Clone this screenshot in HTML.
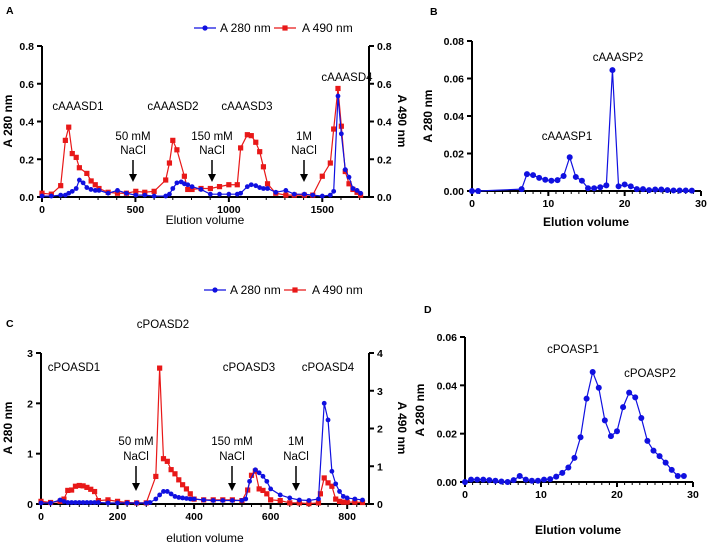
<!DOCTYPE html>
<html><head><meta charset="utf-8"><style>
body{margin:0;background:#fff}
svg{display:block;font-family:"Liberation Sans",Arial,sans-serif}
.t{font-size:11.5px;fill:#000}
.b{font-size:10.5px;font-weight:bold;fill:#000}
.bt{font-size:12px;font-weight:bold;fill:#000}
.tt{font-size:12px;fill:#000}
</style></head><body>
<svg id="s" width="708" height="546" viewBox="0 0 708 546"></svg>
<script>
// Panel A data
const aX=[0,50,100,125,143,162,183,200,220,240,262,285,305,354,404,452,502,550,600,662,682,700,722,745,762,780,803,851,901,950,1000,1045,1063,1099,1120,1144,1165,1185,1207,1251,1305,1350,1404,1449,1500,1543,1561,1584,1602,1623,1643,1664,1686,1705];
const aBlue=[0.005,0.005,0.01,0.01,0.02,0.03,0.045,0.09,0.075,0.05,0.04,0.035,0.035,0.02,0.035,0.02,0.01,0.01,0.005,0.005,0.015,0.045,0.075,0.08,0.07,0.065,0.055,0.04,0.015,0.015,0.015,0.015,0.02,0.055,0.065,0.06,0.05,0.045,0.045,0.025,0.035,0.015,0.015,0.01,0.005,0.01,0.03,0.535,0.335,0.145,0.105,0.045,0.035,0.02];
const aRedX=[0,50,100,125,143,162,183,200,240,263,285,305,354,404,452,502,550,600,662,682,700,722,762,780,803,851,901,950,1000,1045,1063,1099,1120,1144,1165,1185,1207,1251,1305,1350,1404,1449,1500,1543,1561,1584,1602,1623,1643,1664,1686,1705];
const aRed=[0.02,0.015,0.06,0.3,0.37,0.23,0.21,0.155,0.125,0.085,0.065,0.045,0.025,0.02,0.02,0.03,0.025,0.03,0.09,0.18,0.3,0.25,0.11,0.04,0.04,0.045,0.045,0.055,0.065,0.065,0.26,0.33,0.325,0.29,0.24,0.16,0.07,0.02,0.01,0.01,0.01,0.01,0.11,0.18,0.36,0.575,0.375,0.135,0.07,0.04,0.025,0.01];
// Panel B data
const bX=[0,0.8,6.5,7.2,8,8.8,9.6,10.4,11.2,12,12.8,13.6,14.4,15.2,16,16.8,17.6,18.4,19.2,20,20.8,21.6,22.4,23.2,24,24.8,25.6,26.4,27.2,28,28.8];
const bY=[0,0,0.001,0.009,0.0085,0.007,0.006,0.0055,0.0058,0.008,0.018,0.0075,0.0055,0.0015,0.0015,0.002,0.003,0.0645,0.0025,0.0035,0.0025,0.001,0.001,0.0005,0.0008,0.0008,0.0005,0.0003,0.0003,0.0003,0.0002];
// Panel C data
const cX=[0,25,50,60,70,80,90,100,110,120,130,140,150,175,200,225,250,275,300,310,320,330,340,350,360,370,380,390,400,425,450,475,500,525,540,550,560,570,580,590,600,625,650,675,700,725,730,740,750,760,770,780,790,800,820,840];
const cRed=[0.07,0.04,0.07,0.13,0.36,0.37,0.47,0.49,0.48,0.44,0.39,0.33,0.09,0.11,0.07,0.04,0.03,0.03,0.73,3.6,1.2,1.13,0.91,0.8,0.64,0.51,0.4,0.27,0.13,0.11,0.11,0.11,0.11,0.09,0.37,0.76,0.87,0.4,0.36,0.27,0.11,0.09,0.03,0.03,0.01,0.03,0.27,0.69,0.56,0.47,0.13,0.07,0.05,0.05,0.05,0.04];
const cBX=[0,25,50,60,70,80,90,100,110,120,130,140,150,175,200,225,250,275,285,300,310,320,330,340,350,360,370,380,390,400,425,450,475,500,525,535,545,560,570,580,590,600,625,650,675,700,725,740,750,760,770,780,790,800,820,840];
const cBlue=[0.02,0.02,0.08,0.05,0.03,0.03,0.03,0.03,0.03,0.03,0.03,0.03,0.03,0.02,0.02,0.02,0.02,0.02,0.03,0.1,0.18,0.25,0.25,0.2,0.15,0.13,0.12,0.11,0.1,0.1,0.08,0.07,0.07,0.07,0.07,0.1,0.45,0.68,0.62,0.55,0.45,0.3,0.18,0.12,0.08,0.07,0.1,2.0,1.67,0.65,0.4,0.25,0.15,0.12,0.1,0.08];
// Panel D data
const dX=[0,0.8,1.6,2.4,3.2,4,4.8,5.6,6.4,7.2,8,8.8,9.6,10.4,11.2,12,12.8,13.6,14.4,15.2,16,16.8,17.6,18.4,19.2,20,20.8,21.6,22.4,23.2,24,24.8,25.6,26.4,27.2,28,28.8];
const dY=[0,0.001,0.001,0.001,0.0008,0.0005,0.0002,0,0.0008,0.0025,0.001,0.0005,0.0005,0.001,0.0012,0.0022,0.0038,0.006,0.01,0.0185,0.0345,0.0455,0.039,0.0255,0.019,0.021,0.031,0.037,0.035,0.0265,0.017,0.013,0.0107,0.008,0.005,0.0025,0.0025];
const aTicks=[0,500,1000,1500], aYT=["0.0","0.2","0.4","0.6","0.8"];
const bTicks=[0,10,20,30], bYT=["0.00","0.02","0.04","0.06","0.08"];
const cTicks=[0,200,400,600,800], cYT=["0","1","2","3"], cRT=["0","1","2","3","4"];
const dYT=["0.00","0.02","0.04","0.06"];

const S=document.getElementById('s');const NS='http://www.w3.org/2000/svg';
function el(tag,at,txt){const e=document.createElementNS(NS,tag);for(const k in at)e.setAttribute(k,at[k]);if(txt!==undefined)e.textContent=txt;S.appendChild(e);return e;}
function txt(x,y,s,cls,anchor,name,rot){const e=el('text',{x:x,y:y,class:cls,'text-anchor':anchor||'middle'},s);


if(rot)e.setAttribute('transform','rotate('+rot+' '+x+' '+y+')');return e;}
function axes(P){
 const X=v=>P.x0+(v-P.xmin)/(P.xmax-P.xmin)*(P.x1-P.x0);
 const Y=v=>P.y0-(v/P.ymax)*(P.y0-P.y1);
 const ax=el('path',{d:`M${P.x0} ${P.y1}V${P.y0}H${P.x1}`,stroke:'#000','stroke-width':2,fill:'none'});
 
 
 P.yt.forEach((s,i)=>{const v=P.ymax*i/(P.yt.length-1);el('line',{x1:P.x0-5,x2:P.x0,y1:Y(v),y2:Y(v),stroke:'#000','stroke-width':2});
  txt(P.x0-8,Y(v)+4,s,'b','end',P.n+'-y-tick');});
 if(P.rt){const ra=el('line',{x1:P.x1,x2:P.x1,y1:P.y1,y2:P.y0,stroke:'#000','stroke-width':2});
  
  
  P.rt.forEach((s,i)=>{const y=P.y0-(P.y0-P.y1)*i/(P.rt.length-1);el('line',{x1:P.x1,x2:P.x1+5,y1:y,y2:y,stroke:'#000','stroke-width':2});txt(P.x1+8,y+4,s,'b','start',P.n+'-right-tick');});}
 P.xt.forEach(v=>{el('line',{x1:X(v),x2:X(v),y1:P.y0,y2:P.y0+5,stroke:'#000','stroke-width':2});txt(X(v),P.y0+16,String(v),'b','middle',P.n+'-x-tick');});
 const st=P.minor;for(let v=P.xmin;v<=P.xmax+1e-9;v+=st){el('line',{x1:X(v),x2:X(v),y1:P.y0,y2:P.y0+3,stroke:'#000','stroke-width':1});}
 return [X,Y];}
function series(X,Y,xs,ys,col,mk,name){
 const ln=el('polyline',{points:xs.map((x,i)=>X(x)+','+Y(ys[i])).join(' '),fill:'none',stroke:col,'stroke-width':1.2});
 
 
 xs.forEach((x,i)=>{let m;
  if(mk==='sq')m=el('rect',{x:X(x)-2.6,y:Y(ys[i])-2.6,width:5.2,height:5.2,fill:col});
  else m=el('circle',{cx:X(x),cy:Y(ys[i]),r:mk||2.6,fill:col});
  
  });}
function arrow(x,y1,y2){el('line',{x1:x,x2:x,y1:y1,y2:y2-6,stroke:'#000','stroke-width':1.5});
 const a=el('path',{d:`M${x-4} ${y2-8}L${x+4} ${y2-8}L${x} ${y2}Z`,fill:'#000'});
 
 }
function legend(x,y,n){
 el('line',{x1:x,x2:x+22,y1:y,y2:y,stroke:'#1010e0','stroke-width':1.2});el('circle',{cx:x+11,cy:y,r:2.6,fill:'#1010e0'});
 txt(x+26,y+4,'A 280 nm','tt','start',n+'-legend-280');
 el('line',{x1:x+80,x2:x+102,y1:y,y2:y,stroke:'#e81818','stroke-width':1.2});el('rect',{x:x+88.4,y:y-2.6,width:5.2,height:5.2,fill:'#e81818'});
 txt(x+108,y+4,'A 490 nm','tt','start',n+'-legend-490');}
const BL='#1010e0',RD='#e81818';
// Panel A
txt(6,14,'A','b','start','panel-a-label');
legend(194,28,'a');
let [X,Y]=axes({n:'a',x0:42,x1:369,xmin:0,xmax:1750,y0:197,y1:46,ymax:0.8,yt:aYT,rt:aYT,xt:aTicks,minor:100});
series(X,Y,aRedX,aRed,RD,'sq','a-490');
series(X,Y,aX,aBlue,BL,2.4,'a-280');
txt(12,121,'A 280 nm','bt','middle','a-y-title',-90);
txt(398,121,'A 490 nm','bt','middle','a-right-title',90);
txt(205,224,'Elution volume','tt','middle','a-x-title');
txt(78,110,'cAAASD1','t','middle','peak-label');txt(173,110,'cAAASD2','t','middle','peak-label');
txt(247,110,'cAAASD3','t','middle','peak-label');txt(347,81,'cAAASD4','t','middle','peak-label');
[[133,'50 mM'],[212,'150 mM'],[304,'1M']].forEach(([x,s])=>{txt(x,140,s,'t','middle','salt-label');txt(x,154,'NaCl','t','middle','salt-label');arrow(x,160,182);});
// Panel B
txt(430,15,'B','b','start','panel-b-label');
[X,Y]=axes({n:'b',x0:472,x1:701,xmin:0,xmax:30,y0:191,y1:41,ymax:0.08,yt:bYT,xt:bTicks,minor:1});
series(X,Y,bX,bY,BL,3,'b-280');
txt(432,116,'A 280 nm','bt','middle','b-y-title',-90);
txt(586,226,'Elution volume','bt','middle','b-x-title');
txt(618,61,'cAAASP2','t','middle','peak-label');txt(567,140,'cAAASP1','t','middle','peak-label');
// Panel C
legend(204,290,'c');
txt(6,327,'C','b','start','panel-c-label');
[X,Y]=axes({n:'c',x0:41,x1:369,xmin:0,xmax:857,y0:504,y1:353,ymax:3,yt:cYT,rt:cRT,xt:cTicks,minor:25});
const Yr=v=>504-v/4*151;
series(X,Yr,cX,cRed,RD,'sq','c-490');
series(X,Y,cBX,cBlue,BL,2.4,'c-280');
txt(12,428,'A 280 nm','bt','middle','c-y-title',-90);
txt(398,428,'A 490 nm','bt','middle','c-right-title',90);
txt(205,542,'elution volume','tt','middle','c-x-title');
txt(163,328,'cPOASD2','t','middle','peak-label');txt(74,371,'cPOASD1','t','middle','peak-label');
txt(249,371,'cPOASD3','t','middle','peak-label');txt(328,371,'cPOASD4','t','middle','peak-label');
[[136,'50 mM'],[232,'150 mM'],[296,'1M']].forEach(([x,s])=>{txt(x,445,s,'t','middle','salt-label');txt(x,460,'NaCl','t','middle','salt-label');arrow(x,466,491);});
// Panel D
txt(424,313,'D','b','start','panel-d-label');
[X,Y]=axes({n:'d',x0:465,x1:693,xmin:0,xmax:30,y0:482,y1:337,ymax:0.06,yt:dYT,xt:bTicks,minor:1});
series(X,Y,dX,dY,BL,3,'d-280');
txt(424,410,'A 280 nm','bt','middle','d-y-title',-90);
txt(578,534,'Elution volume','bt','middle','d-x-title');
txt(573,353,'cPOASP1','t','middle','peak-label');txt(650,377,'cPOASP2','t','middle','peak-label');
</script>
</body></html>
